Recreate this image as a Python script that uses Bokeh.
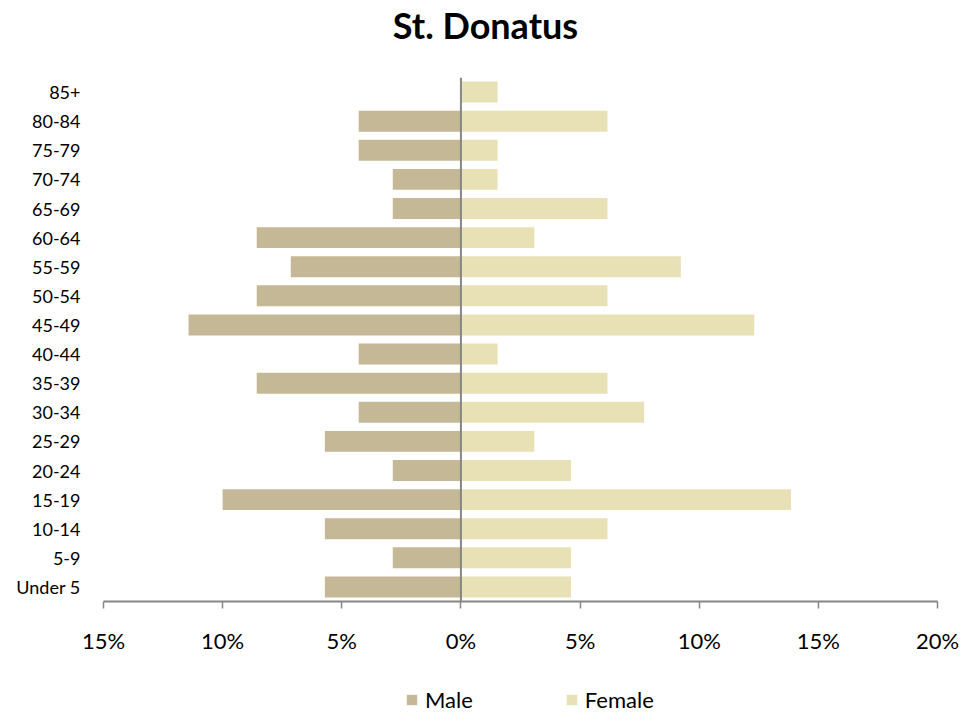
from bokeh.plotting import figure
from bokeh.layouts import column
from bokeh.models import ColumnDataSource, FactorRange, Range1d, FixedTicker, Span, Legend, Label
from bokeh.embed import file_html
from bokeh.resources import INLINE

# ---- data ----
age_groups = ["Under 5", "5-9", "10-14", "15-19", "20-24", "25-29", "30-34", "35-39",
              "40-44", "45-49", "50-54", "55-59", "60-64", "65-69", "70-74", "75-79",
              "80-84", "85+"]
male_pct = [5.71, 2.86, 5.71, 10.00, 2.86, 5.71, 4.29, 8.57,
            4.29, 11.43, 8.57, 7.14, 8.57, 2.86, 2.86, 4.29,
            4.29, 0.0]
female_pct = [4.62, 4.62, 6.15, 13.85, 4.62, 3.08, 7.69, 6.15,
              1.54, 12.31, 6.15, 9.23, 3.08, 6.15, 1.54, 1.54,
              6.15, 1.54]
x_ticks = [-15, -10, -5, 0, 5, 10, 15, 20]
x_tick_labels = ["15%", "10%", "5%", "0%", "5%", "10%", "15%", "20%"]
series_names = ["Male", "Female"]
chart_title = "St. Donatus"

MALE_COLOR = "#C4B896"
FEMALE_COLOR = "#E8E1B6"
FONT = "Lato"
W = 979
LEFT, RIGHT = 103, 42   # frame borders, shared by all stacked figures


def strip(height):
    f = figure(width=W, height=height, output_backend="svg", toolbar_location=None,
               x_range=Range1d(LEFT, W - RIGHT), y_range=Range1d(0, height),
               min_border_left=LEFT, min_border_right=RIGHT,
               min_border_top=0, min_border_bottom=0)
    f.axis.visible = False
    f.grid.visible = False
    f.outline_line_color = None
    f.border_fill_color = "white"
    f.background_fill_color = "white"
    return f


# ---- title strip ----
tt = strip(50)
tt.add_layout(Label(x=485, y=26, text=chart_title, text_align="center",
                    text_baseline="middle", text_font=FONT, text_font_size="36px",
                    text_font_style="bold", text_color="#000000"))

# ---- main chart ----
src = ColumnDataSource(dict(
    age=age_groups,
    male_left=[-v for v in male_pct],
    female_right=female_pct,
))

p = figure(width=W, height=635, output_backend="svg", toolbar_location=None,
           y_range=FactorRange(*age_groups), x_range=Range1d(-15, 20),
           min_border_left=LEFT, min_border_right=RIGHT, min_border_top=27,
           min_border_bottom=84)
p.title = None

p.hbar(y="age", left="male_left", right=0, height=0.72, source=src,
       fill_color=MALE_COLOR, line_color=None)
p.hbar(y="age", left=0, right="female_right", height=0.72, source=src,
       fill_color=FEMALE_COLOR, line_color=None)

p.add_layout(Span(location=0, dimension="height", line_color="#868686", line_width=2))

p.outline_line_color = None
p.grid.visible = False
p.background_fill_color = "white"
p.border_fill_color = "white"

xa = p.xaxis[0]
xa.ticker = FixedTicker(ticks=x_ticks)
xa.major_label_overrides = {t: l for t, l in zip(x_ticks, x_tick_labels)}
xa.axis_line_color = "#868686"
xa.axis_line_width = 2
xa.major_tick_line_color = "#868686"
xa.major_tick_line_width = 1.5
xa.major_tick_in = 0
xa.major_tick_out = 7
xa.minor_tick_line_color = None
xa.major_label_standoff = 18
xa.major_label_text_font = FONT
xa.major_label_text_font_size = "22px"
xa.major_label_text_color = "#000000"

ya = p.yaxis[0]
ya.axis_line_color = None
ya.major_tick_line_color = None
ya.minor_tick_line_color = None
ya.major_tick_in = 0
ya.major_tick_out = 0
ya.major_label_standoff = 23
ya.major_label_text_font = FONT
ya.major_label_text_font_size = "18px"
ya.major_label_text_color = "#000000"

# ---- legend strip below the chart ----
lg = strip(28)
swatch = ColumnDataSource(dict(left=[0], right=[0], top=[0], bottom=[0]))  # zero-size, legend only
lm = lg.quad(left="left", right="right", top="top", bottom="bottom", source=swatch,
             fill_color=MALE_COLOR, line_color=None)
lf = lg.quad(left="left", right="right", top="top", bottom="bottom", source=swatch,
             fill_color=FEMALE_COLOR, line_color=None)
legend = Legend(items=[(series_names[0], [lm]), (series_names[1], [lf])],
                orientation="horizontal", location=(405 - LEFT, 0),
                border_line_color=None, background_fill_alpha=0,
                label_text_font=FONT, label_text_font_size="22px", label_text_color="#000000",
                glyph_width=13, glyph_height=13, spacing=92, margin=0, padding=0,
                label_standoff=7)
lg.add_layout(legend, "center")

layout = column(tt, p, lg, spacing=0)
open("out.html", "w").write(file_html(layout, INLINE))
